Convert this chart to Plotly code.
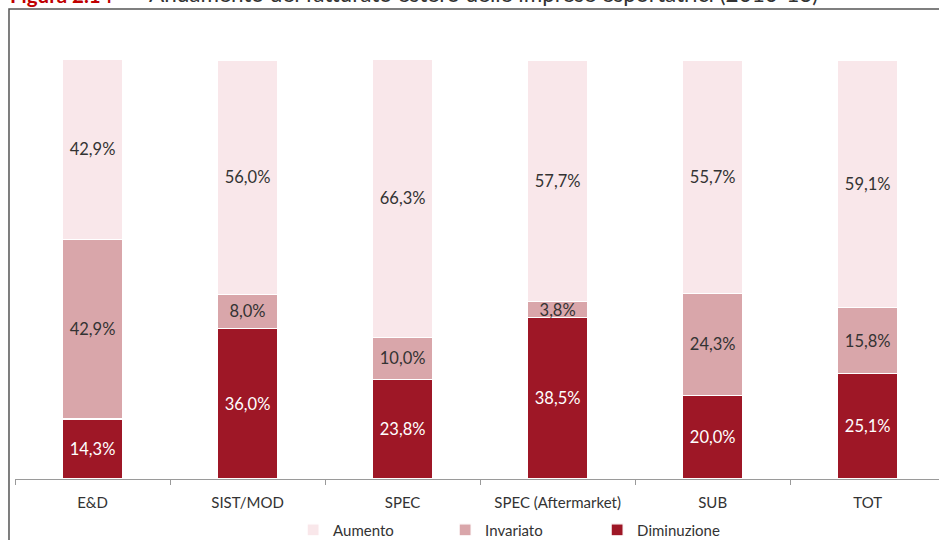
import plotly.graph_objects as go

# data
categories = ['E&D', 'SIST/MOD', 'SPEC', 'SPEC (Aftermarket)', 'SUB', 'TOT']
diminuzione = [14.3, 36.0, 23.8, 38.5, 20.0, 25.1]
invariato = [42.9, 8.0, 10.0, 3.8, 24.3, 15.8]
aumento = [42.9, 56.0, 66.3, 57.7, 55.7, 59.1]

series = [
    ('Diminuzione', diminuzione, '#9E1726', 'white'),
    ('Invariato', invariato, '#D9A6AA', '#333333'),
    ('Aumento', aumento, '#F9E7EA', '#333333'),
]

FONT = 'Lato'

fig = go.Figure()
for name, vals, color, tcolor in series:
    fig.add_trace(go.Bar(
        x=categories, y=vals, name=name,
        width=0.39,
        marker=dict(color=color, line=dict(color='white', width=1.2)),
        texttemplate='%{y:.1f}%',
        textposition='inside',
        insidetextanchor='middle',
        textangle=0,
        textfont=dict(color=tcolor, size=16.5, family=FONT),
    ))

fig.update_layout(
    width=939, height=540,
    barmode='stack',
    separators=', ',
    plot_bgcolor='white', paper_bgcolor='white',
    margin=dict(l=15, r=0, t=60, b=61, autoexpand=False),
    font=dict(family=FONT, size=15, color='#333333'),
    uniformtext=dict(minsize=16.5, mode='show'),
    showlegend=True,
    legend=dict(
        orientation='h', x=0.301, xanchor='left', y=-0.122, yanchor='middle',
        traceorder='reversed', entrywidth=107, itemwidth=30,
        font=dict(size=15, color='#333333'),
    ),
    xaxis=dict(
        range=[-0.5, 5.46], showline=True, linecolor='#9a9a9a', linewidth=1,
        ticks='outside', tickson='boundaries', ticklen=5, tickcolor='#9a9a9a',
        ticklabelstandoff=10, showgrid=False, tickfont=dict(size=15, color='#333333'),
    ),
    yaxis=dict(range=[0, 100], visible=False),
)

# outer frame
fig.add_shape(type='rect', xref='paper', yref='paper',
              x0=-0.0065, x1=1.05, y0=-0.3, y1=1.1217,
              line=dict(color='#555555', width=1.5), layer='below')

# title, cut at the top of the page
fig.add_annotation(
    xref='paper', yref='paper', x=-0.0076, y=1.1229, xanchor='left', yanchor='bottom',
    text='<b>Figura 2.14 -</b>', showarrow=False,
    font=dict(size=20.5, color='#C00000', family=FONT),
)
fig.add_annotation(
    xref='paper', yref='paper', x=0.1429, y=1.1215, xanchor='left', yanchor='bottom',
    text='Andamento del fatturato estero delle imprese esportatrici (2010-13)',
    showarrow=False, font=dict(size=22.5, color='#333333', family=FONT),
)

fig.write_html('out.html', config={'displayModeBar': False},
               post_script="document.body.style.margin='0';")
